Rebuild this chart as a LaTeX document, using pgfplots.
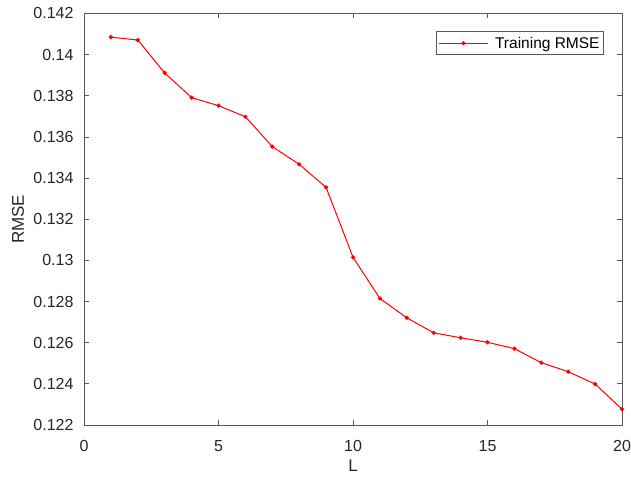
\documentclass[border=0pt]{standalone}
\usepackage{pgfplots}
\pgfplotsset{compat=1.18}
\usepackage{fontspec}
\setmainfont{Liberation Sans}
\definecolor{axgray}{gray}{0.35}
\begin{document}
\begin{tikzpicture}[x=1pt,y=1pt]
\useasboundingbox (0,0) rectangle (631,478);
\begin{axis}[
  at={(84pt,53pt)}, anchor=south west,
  scale only axis, width=538pt, height=411.5pt,
  xmin=0, xmax=20, ymin=0.122, ymax=0.142,
  xtick={0,5,10,15,20},
  ytick={0.122,0.124,0.126,0.128,0.13,0.132,0.134,0.136,0.138,0.14,0.142},
  yticklabels={0.122,0.124,0.126,0.128,0.13,0.132,0.134,0.136,0.138,0.14,0.142},
  scaled y ticks=false,
  tick align=inside,
  major tick length=5pt,
  axis line style={axgray, line width=0.8pt},
  tick style={axgray, line width=0.8pt},
  every tick label/.append style={font=\fontsize{16}{16}\selectfont, text=black!85},
  /pgf/number format/assume math mode=true,
  xticklabel style={yshift=-12pt},
  yticklabel style={xshift=-7pt},
  xlabel={L}, ylabel={RMSE},
  label style={font=\fontsize{17}{17}\selectfont, text=black!85},
  xlabel style={at={(axis description cs:0.5,0)}, anchor=center, yshift=-41pt},
  ylabel style={at={(axis description cs:0,0.5)}, anchor=center, yshift=66pt},
  legend style={at={(1,1)}, anchor=north east, xshift=-18pt, yshift=-18pt,
    draw=axgray, line width=0.8pt, font=\fontsize{15.5}{15.5}\selectfont,
    inner xsep=2pt, inner ysep=3pt},
  legend cell align=left,
  legend image code/.code={
    \draw[#1, line width=1pt] (0.05cm,0cm) -- (1.8cm,0cm);
    \fill[red] (0.925cm,0cm) circle (1.6pt);
    \path (1.95cm,0cm);
  },
]
\addplot[red, line width=1pt, mark=*, mark size=1.6pt, mark options={fill=red, draw=red}] coordinates {
(1,0.14085) (2,0.14071) (3,0.13911) (4,0.13791) (5,0.13752)
(6,0.13698) (7,0.13553) (8,0.13467) (9,0.13355) (10,0.13015)
(11,0.12815) (12,0.12721) (13,0.12648) (14,0.12624) (15,0.12602)
(16,0.12571) (17,0.12503) (18,0.12459) (19,0.12399) (20,0.12277)
};
\addlegendentry{Training RMSE}
\end{axis}
\end{tikzpicture}
\end{document}
